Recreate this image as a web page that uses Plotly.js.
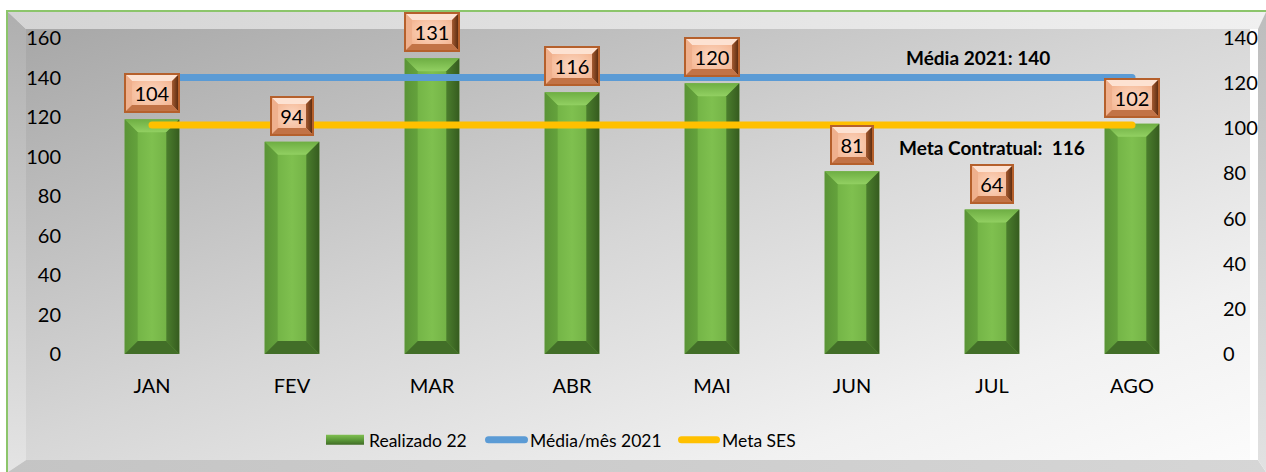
<!DOCTYPE html>
<html>
<head>
<meta charset="utf-8">
<script src="https://cdn.plot.ly/plotly-3.0.1.min.js"></script>
<style>
  html, body { margin:0; padding:0; background:#ffffff; }
  #wrap { position:relative; width:1266px; height:472px; overflow:hidden; background:#fff; }
  #frame { position:absolute; left:6px; top:10px; width:1262px; height:464px;
           border-top:2px solid #8cc56b; border-left:2px solid #8cc56b; }
  .bev { position:absolute; left:8px; top:12px; width:1258px; height:460px; }
  #inner { position:absolute; left:26px; top:29px; width:1224px; height:431px;
           background:linear-gradient(to bottom right, #a7a7a7 0%, #d6d6d6 48%, #f1f1f1 80%, #fbfbfb 100%); }
  #bt { background:linear-gradient(to right, #d4d4d4, #f0f0f0);
        clip-path:polygon(0 0, 1258px 0, 1250px 17px, 18px 17px); }
  #bl { background:linear-gradient(to bottom, #afafaf, #e4e4e4);
        clip-path:polygon(0 0, 18px 17px, 18px 448px, 0 460px); }
  #bb { background:linear-gradient(to right, #c4c4c4, #d6d6d6);
        clip-path:polygon(0 460px, 18px 448px, 1250px 448px, 1258px 460px); }
  #br { background:linear-gradient(to bottom, #bdbdbd, #e2e2e2);
        clip-path:polygon(1258px 0, 1250px 17px, 1250px 448px, 1258px 460px); }
  #chart { position:absolute; left:0; top:0; width:1266px; height:472px; }
</style>
</head>
<body>
<div id="wrap">
  <div id="frame"></div>
  <div class="bev" id="bt"></div>
  <div class="bev" id="bl"></div>
  <div class="bev" id="bb"></div>
  <div class="bev" id="br"></div>
  <div id="inner"></div>
  <div id="chart"></div>
</div>
<script>
// ---- data ----
var categories = ['JAN', 'FEV', 'MAR', 'ABR', 'MAI', 'JUN', 'JUL', 'AGO'];
var realizado22 = [104, 94, 131, 116, 120, 81, 64, 102];
var mediaMes2021 = [140, 140, 140, 140, 140, 140, 140, 140];
var metaSES = [116, 116, 116, 116, 116, 116, 116, 116];
var seriesNames = ['Realizado 22', 'Média/mês 2021', 'Meta SES'];
var noteMedia = 'Média 2021: 140';
var noteMeta = 'Meta Contratual:  116';

var FONT = 'Lato, "Open Sans", sans-serif';
var SVGNS = 'http://www.w3.org/2000/svg';

var data = [
  { type:'bar', name:seriesNames[0], x:categories, y:realizado22, yaxis:'y',
    width:0.39, marker:{ color:'#70ad47', line:{ width:0 } }, hoverinfo:'skip' },
  { type:'scatter', mode:'lines', name:seriesNames[1], x:categories, y:mediaMes2021, yaxis:'y2',
    line:{ color:'#5b9bd5', width:7 }, hoverinfo:'skip' },
  { type:'scatter', mode:'lines', name:seriesNames[2], x:categories, y:metaSES, yaxis:'y2',
    line:{ color:'#ffc000', width:7 }, hoverinfo:'skip' }
];

var annotations = realizado22.map(function (v, i) {
  var s = String(v);
  return {
    x: categories[i], y: v, xref:'x', yref:'y', yanchor:'bottom', xanchor:'center',
    yshift: 6, showarrow:false, text: s,
    font:{ family:FONT, size:20, color:'#000' },
    bgcolor:'#f6b68f', bordercolor:'#a85322', borderwidth:2, borderpad:1,
    width: s.length > 2 ? 50 : 38, height: 34
  };
});
annotations.push({
  x:0.8, y:150, xref:'paper', yref:'y2', showarrow:false, text:'<b>' + noteMedia + '</b>',
  font:{ family:FONT, size:19, color:'#000' }, xanchor:'center', yanchor:'middle'
});
annotations.push({
  x:0.8125, y:104.8, xref:'paper', yref:'y2', showarrow:false, text:'<b>' + noteMeta + '</b>',
  font:{ family:FONT, size:19, color:'#000' }, xanchor:'center', yanchor:'middle'
});

var layout = {
  width:1266, height:472,
  margin:{ l:82, r:64, t:38, b:118 },
  paper_bgcolor:'rgba(0,0,0,0)', plot_bgcolor:'rgba(0,0,0,0)',
  font:{ family:FONT, size:20, color:'#000' },
  showlegend:true,
  xaxis:{ type:'category', showgrid:false, zeroline:false, showline:false, ticks:'',
          tickfont:{ family:FONT, size:20, color:'#000' }, ticklabelstandoff:18 },
  yaxis:{ side:'right', range:[0, 140], dtick:20, showgrid:false, zeroline:false, showline:false,
          ticks:'', tickfont:{ family:FONT, size:20, color:'#000' }, ticklabelstandoff:20 },
  yaxis2:{ overlaying:'y', side:'left', range:[0, 160], dtick:20, showgrid:false, zeroline:false,
           showline:false, ticks:'', tickfont:{ family:FONT, size:20, color:'#000' }, ticklabelstandoff:20 },
  legend:{ orientation:'h', x:0.215, xanchor:'left', y:-0.272, yanchor:'middle',
           bgcolor:'rgba(0,0,0,0)', font:{ family:FONT, size:17.5, color:'#000' } },
  annotations: annotations
};

function poly(parent, before, pts, fill) {
  var p = document.createElementNS(SVGNS, 'polygon');
  p.setAttribute('points', pts.map(function (q) { return q[0] + ',' + q[1]; }).join(' '));
  p.style.fill = fill;
  p.style.stroke = 'none';
  parent.insertBefore(p, before);
  return p;
}
function bevel(parent, before, x, y, w, h, b, fills) {
  // fills: [top, left, right, bottom]
  poly(parent, before, [[x, y], [x + w, y], [x + w - b, y + b], [x + b, y + b]], fills[0]);
  poly(parent, before, [[x, y], [x + b, y + b], [x + b, y + h - b], [x, y + h]], fills[1]);
  poly(parent, before, [[x + w, y], [x + w, y + h], [x + w - b, y + h - b], [x + w - b, y + b]], fills[2]);
  poly(parent, before, [[x, y + h], [x + b, y + h - b], [x + w - b, y + h - b], [x + w, y + h]], fills[3]);
}

var gd = document.getElementById('chart');
Plotly.newPlot(gd, data, layout, { displayModeBar:false, staticPlot:true }).then(function () {
  var svg = gd.querySelector('svg.main-svg');
  var defs = svg.querySelector('defs');
  defs.insertAdjacentHTML('beforeend',
    '<linearGradient id="barGrad" x1="0" y1="0" x2="1" y2="0">' +
      '<stop offset="0" stop-color="#6aab3f"/>' +
      '<stop offset="0.5" stop-color="#7fc04f"/>' +
      '<stop offset="1" stop-color="#6aa83f"/>' +
    '</linearGradient>' +
    '<linearGradient id="barTop" x1="0" y1="0" x2="0" y2="1">' +
      '<stop offset="0" stop-color="#6eae43"/>' +
      '<stop offset="1" stop-color="#92d062"/>' +
    '</linearGradient>' +
    '<linearGradient id="barRight" x1="0" y1="0" x2="1" y2="0">' +
      '<stop offset="0" stop-color="#4b7e2d"/>' +
      '<stop offset="1" stop-color="#365c1f"/>' +
    '</linearGradient>' +
    '<linearGradient id="barLeft" x1="0" y1="0" x2="1" y2="0">' +
      '<stop offset="0" stop-color="#5a9436"/>' +
      '<stop offset="1" stop-color="#64a23c"/>' +
    '</linearGradient>' +
    '<linearGradient id="legGrad" x1="0" y1="0" x2="0" y2="1">' +
      '<stop offset="0" stop-color="#7fbf50"/>' +
      '<stop offset="0.5" stop-color="#5c9a39"/>' +
      '<stop offset="1" stop-color="#3f6b25"/>' +
    '</linearGradient>' +
    '<radialGradient id="lblGrad" cx="0.5" cy="0.5" r="0.65">' +
      '<stop offset="0" stop-color="#fbd8c4"/>' +
      '<stop offset="0.6" stop-color="#f6bd9c"/>' +
      '<stop offset="1" stop-color="#eea37c"/>' +
    '</radialGradient>' +
    '<linearGradient id="lblRight" x1="0" y1="0" x2="1" y2="0">' +
      '<stop offset="0" stop-color="#a45a30"/>' +
      '<stop offset="1" stop-color="#5e2e12"/>' +
    '</linearGradient>');

  // bars: bevel decoration on each bar drawn by plotly
  gd.querySelectorAll('.barlayer .point path').forEach(function (p) {
    p.style.fill = 'url(#barGrad)';
    var bb = p.getBBox();
    if (bb.width > 0 && bb.height > 0) {
      var b = Math.min(13, bb.height / 2, bb.width / 2);
      bevel(p.parentNode, p.nextSibling, bb.x, bb.y, bb.width, bb.height, b,
        ['url(#barTop)', 'url(#barLeft)', 'url(#barRight)', '#426e28']);
    }
  });

  gd.querySelectorAll('.scatterlayer .js-line').forEach(function (p) {
    p.style.strokeLinecap = 'round';
  });

  // value labels: bevelled boxes
  var anns = gd.querySelectorAll('.annotation');
  anns.forEach(function (a, i) {
    if (i < realizado22.length) {
      var r = a.querySelector('rect.bg');
      if (r) {
        r.style.fill = 'url(#lblGrad)';
        var x = +r.getAttribute('x') + 1, y = +r.getAttribute('y') + 1;
        var w = +r.getAttribute('width') - 2, h = +r.getAttribute('height') - 2;
        bevel(r.parentNode, r.nextSibling, x, y, w, h, 6,
          ['#fde2d2', '#efb08d', 'url(#lblRight)', '#c27346']);
        r.style.stroke = 'none';
        var rr = r.cloneNode(false);
        rr.style.fill = 'none';
        rr.style.stroke = '#b5602c';
        rr.style.strokeWidth = '2px';
        r.parentNode.insertBefore(rr, r.nextSibling);
        var t = a.querySelector('text');
        if (t) { t.parentNode.appendChild(t); }
      }
    }
  });

  // legend: remove clipping, set symbols and placement
  gd.querySelectorAll('.legend [clip-path]').forEach(function (el) { el.removeAttribute('clip-path'); });
  gd.querySelectorAll('.legend').forEach(function (el) { el.removeAttribute('clip-path'); });
  var desired = [326, 485, 678];
  var symW = [38, 43, 42];
  var traces = gd.querySelectorAll('.legend .traces');
  traces.forEach(function (t, i) {
    if (i === 0) {
      var bp = t.querySelector('.legendpoints path');
      if (bp) {
        bp.setAttribute('d', 'M5,-5h' + symW[0] + 'v10h-' + symW[0] + 'Z');
        bp.setAttribute('transform', 'translate(0,0)');
        bp.style.fill = 'url(#legGrad)';
        bp.style.stroke = 'none';
      }
    } else {
      var lp = t.querySelector('.legendlines path');
      if (lp) {
        lp.setAttribute('d', 'M8.5,0h' + (symW[i] - 7));
        lp.style.strokeLinecap = 'round';
        lp.style.strokeWidth = '7px';
      }
    }
    var txt = t.querySelector('text.legendtext');
    var tx = 5 + symW[i] + (i === 0 ? 5 : 2);
    if (txt) {
      txt.setAttribute('x', tx);
      txt.querySelectorAll('tspan.line').forEach(function (s) { s.setAttribute('x', tx); });
    }
    var tr = t.getAttribute('transform') || '';
    var m = /translate\(\s*([-\d.e]+)[ ,]+([-\d.e]+)/.exec(tr);
    var cx = m ? parseFloat(m[1]) : 0, cy = m ? parseFloat(m[2]) : 0;
    var ctm = t.getCTM();
    var parentOff = ctm.e - cx;
    t.setAttribute('transform', 'translate(' + (desired[i] - 5 - parentOff) + ',' + cy + ')');
  });
});
</script>
</body>
</html>
